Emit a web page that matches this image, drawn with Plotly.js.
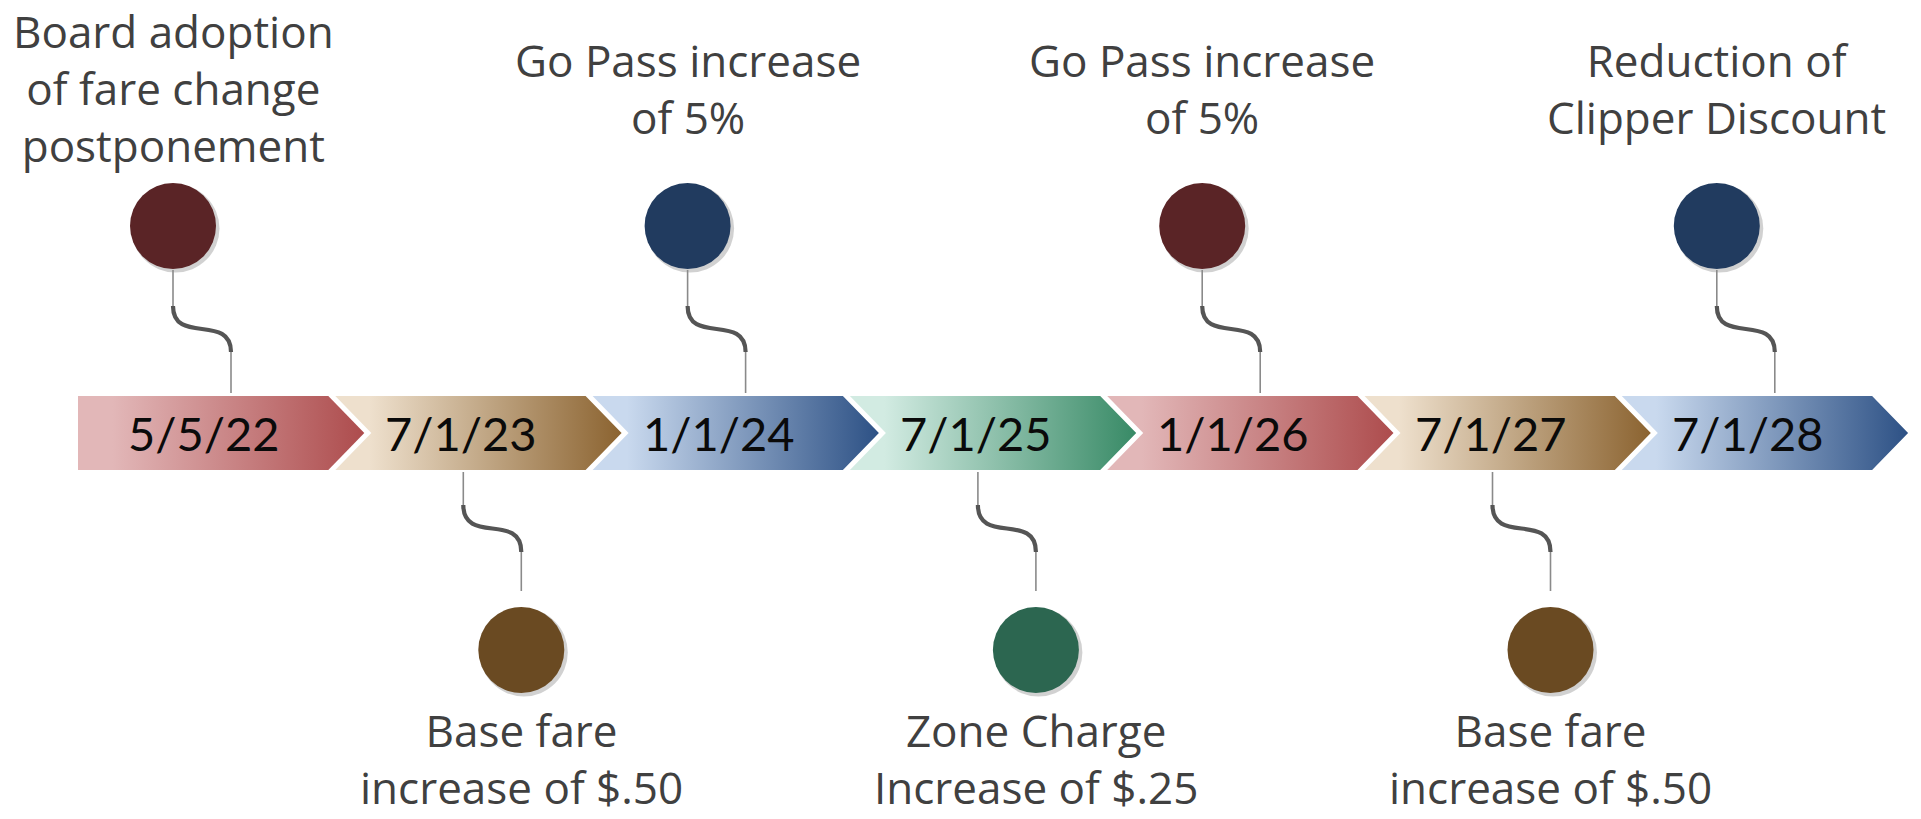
<!DOCTYPE html>
<html><head><meta charset="utf-8">
<script src="https://cdn.plot.ly/plotly-3.0.1.min.js"></script>
<style>html,body{margin:0;padding:0;background:#fff;overflow:hidden}#chart{width:1921px;height:819px}</style>
</head><body><div id="chart"></div>
<script>
// ---------------- data ----------------
const milestoneDates = ['5/5/22', '7/1/23', '1/1/24', '7/1/25', '1/1/26', '7/1/27', '7/1/28'];
const milestoneThemes = ['red', 'brown', 'blue', 'green', 'red', 'brown', 'blue'];
const eventLabels = [
  'Board adoption<br>of fare change<br>postponement',
  'Base fare<br>increase of $.50',
  'Go Pass increase<br>of 5%',
  'Zone Charge<br>Increase of $.25',
  'Go Pass increase<br>of 5%',
  'Base fare<br>increase of $.50',
  'Reduction of<br>Clipper Discount'
];
const eventSides = ['above', 'below', 'above', 'below', 'above', 'below', 'above'];

const themeLight = {red: '#e2b7b8', brown: '#eee0cd', blue: '#c9d9ee', green: '#d2ebe2'};
const themeDark  = {red: '#ad4c4d', brown: '#8b6330', blue: '#2d5185', green: '#388a66'};
const themeDot   = {red: '#5a2426', brown: '#6a4a22', blue: '#213b5f', green: '#2c6650'};

// ---------------- geometry (styling) ----------------
const PITCH = 257.3;              // pixels per milestone unit on x
const px = v => v / PITCH;        // pixel distance -> x-axis units
const BAND = 37, GAP = 7, TIP = 36;
const DATE_FONT = 'Lato, "Open Sans", sans-serif';
const TEXT_FONT = '"Open Sans", Lato, sans-serif';

const traces = [];
const shapes = [];
const annotations = [];

milestoneDates.forEach((d, i) => {
  const th = milestoneThemes[i];
  const s = i, e = i + 1 - px(GAP);
  const xs = [s, e, e + px(TIP), e, s];
  const ys = [BAND, BAND, 0, -BAND, -BAND];
  if (i > 0) { xs.push(s + px(TIP)); ys.push(0); }
  xs.push(s); ys.push(BAND);
  traces.push({
    type: 'scatter', mode: 'lines', x: xs, y: ys, fill: 'toself',
    line: {width: 0, color: 'rgba(0,0,0,0)'},
    fillgradient: {type: 'horizontal', colorscale: [[0, themeLight[th]], [0.12, themeLight[th]], [1, themeDark[th]]]},
    hoverinfo: 'skip', showlegend: false
  });
  annotations.push({
    x: i + px(126), y: 0, xref: 'x', yref: 'y', text: d, showarrow: false,
    xanchor: 'center', yanchor: 'middle',
    font: {family: DATE_FONT, size: 47, color: '#0a0a0a'}
  });
});

// events
const K = 0.85, D = 58;
const dotX = [], dotY = [], dotC = [];
eventLabels.forEach((lab, i) => {
  const th = milestoneThemes[i];
  let cx, circX, circY, textY;
  const thin = {type: 'path', xref: 'x', yref: 'y', line: {color: '#8a8a8a', width: 1.6}};
  const thick = {type: 'path', xref: 'x', yref: 'y', line: {color: '#555555', width: 4.2}};
  if (eventSides[i] === 'above') {
    cx = i + px(153);
    const x0 = cx - px(D);
    const yTop = 127, yBot = 81, h = yTop - yBot;
    shapes.push(Object.assign({}, thin, {path: `M ${cx},${BAND + 3} L ${cx},${yBot}`}));
    shapes.push(Object.assign({}, thick, {path: `M ${x0},${yTop} C ${x0},${yTop - K * h} ${cx},${yBot + K * h} ${cx},${yBot}`}));
    shapes.push(Object.assign({}, thin, {path: `M ${x0},${yTop} L ${x0},${163}`}));
    circX = x0; circY = 207; textY = 345;
  } else {
    cx = i + px(128);
    const x1 = cx + px(D);
    const yTop = -72, yBot = -119, h = yTop - yBot;
    shapes.push(Object.assign({}, thin, {path: `M ${cx},${-BAND - 2} L ${cx},${yTop}`}));
    shapes.push(Object.assign({}, thick, {path: `M ${cx},${yTop} C ${cx},${yTop - K * h} ${x1},${yBot + K * h} ${x1},${yBot}`}));
    shapes.push(Object.assign({}, thin, {path: `M ${x1},${yBot} L ${x1},${-158}`}));
    circX = x1; circY = -217; textY = -325;
  }
  dotX.push(circX); dotY.push(circY); dotC.push(themeDot[th]);
  annotations.push({
    x: circX, y: textY, xref: 'x', yref: 'y', text: lab, showarrow: false,
    xanchor: 'center', yanchor: 'middle', align: 'center',
    font: {family: TEXT_FONT, size: 44, color: '#404040'}
  });
});

// circle shadow + circles
traces.push({
  type: 'scatter', mode: 'markers', x: dotX.map(v => v + px(2.5)), y: dotY.map(v => v - 2.5),
  marker: {size: 88, color: 'rgba(0,0,0,0.18)', line: {width: 0}}, hoverinfo: 'skip', showlegend: false
});
traces.push({
  type: 'scatter', mode: 'markers', x: dotX, y: dotY,
  marker: {size: 86, color: dotC, line: {width: 0}}, hoverinfo: 'skip', showlegend: false
});

const layout = {
  width: 1921, height: 819,
  margin: {l: 0, r: 0, t: 0, b: 0, pad: 0},
  paper_bgcolor: '#ffffff', plot_bgcolor: '#ffffff',
  showlegend: false,
  xaxis: {range: [-78 / PITCH, (1921 - 78) / PITCH], visible: false, fixedrange: true},
  yaxis: {range: [-386, 433], visible: false, fixedrange: true},
  shapes: shapes,
  annotations: annotations
};

Plotly.newPlot('chart', traces, layout, {displayModeBar: false, staticPlot: true});
</script>
</body></html>
